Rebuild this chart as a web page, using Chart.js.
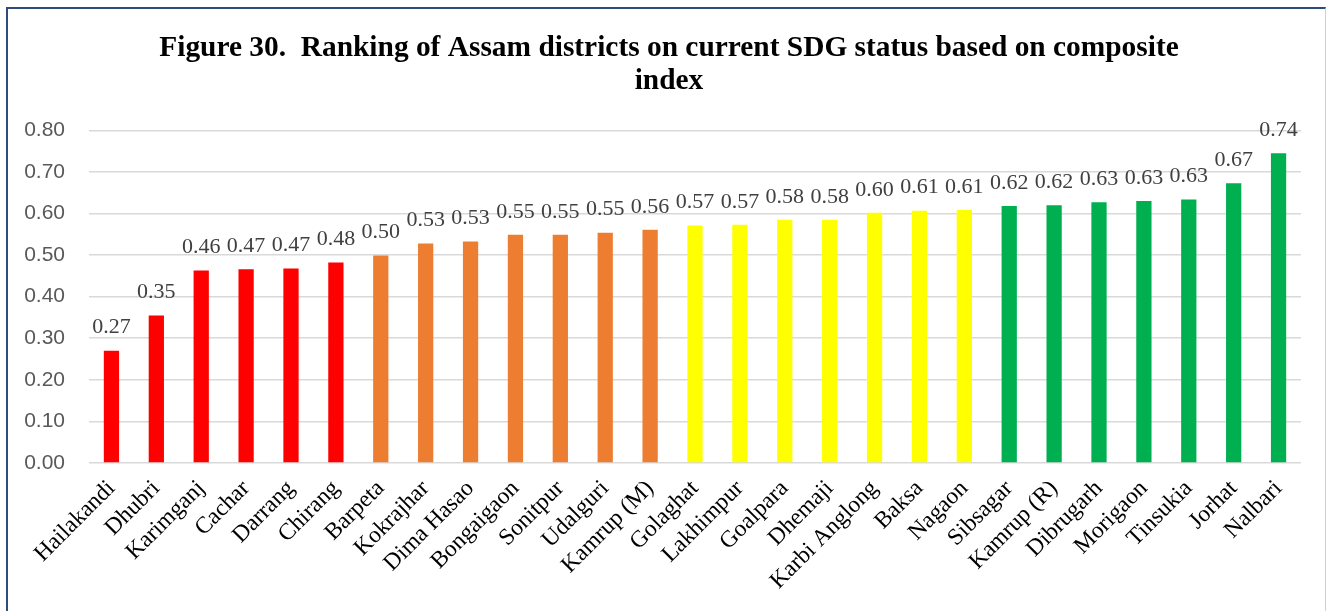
<!DOCTYPE html>
<html>
<head>
<meta charset="utf-8">
<script src="https://cdn.jsdelivr.net/npm/chart.js@4.4.1/dist/chart.umd.min.js"></script>
<style>
  html, body { margin: 0; padding: 0; background: #fff; }
  #wrap { position: absolute; left: 0; top: 0; width: 1329px; height: 611px; overflow: hidden; }
  #frame { position: absolute; left: 6px; top: 7px; width: 1320px; height: 620px;
           border-left: 2px solid #2f4a7f; border-top: 2px solid #2f4a7f; border-right: 1px solid #d0d0d0; box-sizing: border-box; }
  #box { position: absolute; left: 0; top: 0; width: 1329px; height: 611px; }
</style>
</head>
<body>
<div id="wrap">
  <div id="frame"></div>
  <div id="box"><canvas id="c" width="1329" height="611"></canvas></div>
</div>
<script>
const districts = ["Hailakandi","Dhubri","Karimganj","Cachar","Darrang","Chirang","Barpeta","Kokrajhar","Dima Hasao","Bongaigaon","Sonitpur","Udalguri","Kamrup (M)","Golaghat","Lakhimpur","Goalpara","Dhemaji","Karbi Anglong","Baksa","Nagaon","Sibsagar","Kamrup (R)","Dibrugarh","Morigaon","Tinsukia","Jorhat","Nalbari"];
const scores = [0.270,0.355,0.463,0.466,0.468,0.482,0.499,0.528,0.533,0.549,0.549,0.554,0.561,0.571,0.573,0.585,0.585,0.602,0.607,0.609,0.618,0.620,0.627,0.630,0.634,0.673,0.745];
const scoreLabels = ["0.27","0.35","0.46","0.47","0.47","0.48","0.50","0.53","0.53","0.55","0.55","0.55","0.56","0.57","0.57","0.58","0.58","0.60","0.61","0.61","0.62","0.62","0.63","0.63","0.63","0.67","0.74"];
const statusGroup = ["red","red","red","red","red","red","orange","orange","orange","orange","orange","orange","orange","yellow","yellow","yellow","yellow","yellow","yellow","yellow","green","green","green","green","green","green","green"];
const yTicks = [0,0.1,0.2,0.3,0.4,0.5,0.6,0.7,0.8];

const palette = { red: "#FF0000", orange: "#ED7D31", yellow: "#FFFF00", green: "#00B050" };

const labelPlugin = {
  id: "valueLabels",
  afterLayout(chart) {
    if (chart.titleBlock) { chart.titleBlock.left = 37; }
  },
  afterDatasetsDraw(chart) {
    const ctx = chart.ctx;
    const meta = chart.getDatasetMeta(0);
    ctx.save();
    ctx.font = "22px 'Liberation Serif', 'Times New Roman', serif";
    ctx.fillStyle = "#404040";
    ctx.textAlign = "center";
    ctx.textBaseline = "bottom";
    meta.data.forEach((bar, i) => {
      ctx.fillText(scoreLabels[i], bar.x, bar.y - 12);
    });
    ctx.restore();
  }
};

new Chart(document.getElementById("c"), {
  type: "bar",
  data: {
    labels: districts,
    datasets: [{
      data: scores,
      backgroundColor: statusGroup.map(g => palette[g]),
      barPercentage: 0.34,
      categoryPercentage: 1.0
    }]
  },
  options: {
    responsive: false,
    animation: false,
    layout: { padding: { left: 0, right: 28, top: 6, bottom: 12 } },
    plugins: {
      legend: { display: false },
      tooltip: { enabled: false },
      title: {
        display: true,
        text: ["Figure 30.  Ranking of Assam districts on current SDG status based on composite", "index"],
        font: { family: "'Liberation Serif', 'Times New Roman', serif", size: 29.4, weight: "bold", lineHeight: 1.13 },
        color: "#000",
        padding: { top: 26, bottom: 32 }
      }
    },
    scales: {
      y: {
        min: 0, max: 0.8,
        afterBuildTicks(axis) { axis.ticks = yTicks.map(v => ({ value: v })); },
        afterFit(scale) { scale.width = 89; },
        ticks: {
          callback: v => Number(v).toFixed(2),
          font: { family: "'Liberation Sans', Arial, sans-serif", size: 21 },
          color: "#595959",
          padding: 24
        },
        grid: { color: "#d9d9d9", lineWidth: 1.5, drawTicks: false },
        border: { display: false }
      },
      x: {
        afterFit(scale) { scale.paddingLeft = 0; scale.paddingRight = 0; },
        ticks: {
          maxRotation: 45, minRotation: 45,
          autoSkip: false,
          font: { family: "'Liberation Serif', 'Times New Roman', serif", size: 23.5 },
          color: "#000",
          padding: 4
        },
        grid: { display: false },
        border: { display: false }
      }
    }
  },
  plugins: [labelPlugin]
});
</script>
</body>
</html>
